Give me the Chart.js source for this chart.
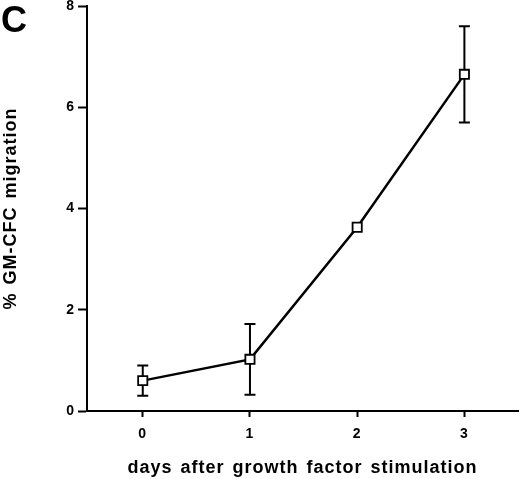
<!DOCTYPE html>
<html>
<head>
<meta charset="utf-8">
<script src="https://cdn.jsdelivr.net/npm/chart.js@4/dist/chart.umd.min.js"></script>
<style>
  html, body { margin: 0; padding: 0; background: #fff; }
  #wrap { width: 520px; height: 479px; position: relative; }
</style>
</head>
<body>
<div id="wrap"><canvas id="c" width="520" height="479"></canvas></div>
<script>
// ---- data ----
const days = [0, 1, 2, 3];
const migration = [0.6, 1.02, 3.63, 6.65];
const migrationErr = [0.3, 0.7, 0, 0.95];
const xTickValues = [0, 1, 2, 3];
const yTickValues = [0, 2, 4, 6, 8];
const panelLabel = 'C';
const xTitle = 'days after growth factor stimulation';
const yTitle = '% GM-CFC migration';

const FONT = '"Liberation Sans", Arial, Helvetica, sans-serif';

const textSpacing = {
  id: 'textSpacing',
  beforeDraw(chart) {
    const ctx = chart.ctx;
    if ('letterSpacing' in ctx) ctx.letterSpacing = '1px';
    if ('wordSpacing' in ctx) ctx.wordSpacing = '2px';
  }
};

const errorBars = {
  id: 'errorBars',
  beforeDatasetsDraw(chart) {
    const ctx = chart.ctx;
    const xs = chart.scales.x, ys = chart.scales.y;
    ctx.save();
    ctx.strokeStyle = '#000';
    ctx.lineWidth = 2;
    days.forEach((d, i) => {
      const e = migrationErr[i];
      if (!e) return;
      const px = xs.getPixelForValue(d);
      const top = ys.getPixelForValue(migration[i] + e);
      const bot = ys.getPixelForValue(migration[i] - e);
      const cap = 5.5;
      ctx.beginPath();
      ctx.moveTo(px, top); ctx.lineTo(px, bot);
      ctx.moveTo(px - cap, top); ctx.lineTo(px + cap, top);
      ctx.moveTo(px - cap, bot); ctx.lineTo(px + cap, bot);
      ctx.stroke();
    });
    ctx.restore();
  }
};

const panelLetter = {
  id: 'panelLetter',
  afterDraw(chart) {
    const ctx = chart.ctx;
    ctx.save();
    if ('letterSpacing' in ctx) ctx.letterSpacing = '0px';
    ctx.fillStyle = '#000';
    ctx.font = 'bold 36px ' + FONT;
    ctx.textBaseline = 'alphabetic';
    ctx.textAlign = 'left';
    ctx.fillText(panelLabel, 1, 32);
    ctx.restore();
  }
};

new Chart(document.getElementById('c'), {
  type: 'line',
  data: {
    datasets: [{
      data: days.map((d, i) => ({ x: d, y: migration[i] })),
      borderColor: '#000',
      borderWidth: 2.5,
      tension: 0,
      fill: false,
      clip: false,
      pointStyle: 'rect',
      pointRadius: 6.5,
      pointHoverRadius: 6.5,
      pointBackgroundColor: '#fff',
      pointBorderColor: '#000',
      pointBorderWidth: 1.8
    }]
  },
  options: {
    responsive: false,
    animation: false,
    devicePixelRatio: 1,
    layout: { autoPadding: false, padding: { top: 6, right: 2, left: 0, bottom: 0 } },
    plugins: { legend: { display: false }, tooltip: { enabled: false } },
    scales: {
      x: {
        type: 'linear',
        position: 'bottom',
        min: -0.52,
        max: 3.5,
        afterBuildTicks: s => { s.ticks = xTickValues.map(v => ({ value: v })); },
        afterFit: s => { s.height = 68; s.paddingLeft = 0; s.paddingRight = 0; },
        grid: { drawOnChartArea: false, drawTicks: true, tickLength: 6, tickWidth: 2, tickColor: '#000', color: '#000' },
        border: { display: true, color: '#000', width: 2 },
        ticks: { color: '#000', padding: 9, font: { family: FONT, size: 14, weight: 'bold' }, maxRotation: 0 },
        title: { display: true, text: xTitle, color: '#000', font: { family: FONT, size: 18, weight: 'bold' }, padding: { top: 0, bottom: 0 } }
      },
      y: {
        min: 0,
        max: 8,
        afterBuildTicks: s => { s.ticks = yTickValues.map(v => ({ value: v })); },
        afterFit: s => { s.width = 87; s.paddingTop = 0; s.paddingBottom = 0; },
        grid: { drawOnChartArea: false, drawTicks: true, tickLength: 9, tickWidth: 2, tickColor: '#000', color: '#000' },
        border: { display: true, color: '#000', width: 2 },
        ticks: { color: '#000', padding: 3, font: { family: FONT, size: 14, weight: 'bold' } },
        title: { display: true, text: yTitle, color: '#000', font: { family: FONT, size: 18, weight: 'bold' }, padding: { top: 0, bottom: 0 } }
      }
    }
  },
  plugins: [textSpacing, errorBars, panelLetter]
});
</script>
</body>
</html>
